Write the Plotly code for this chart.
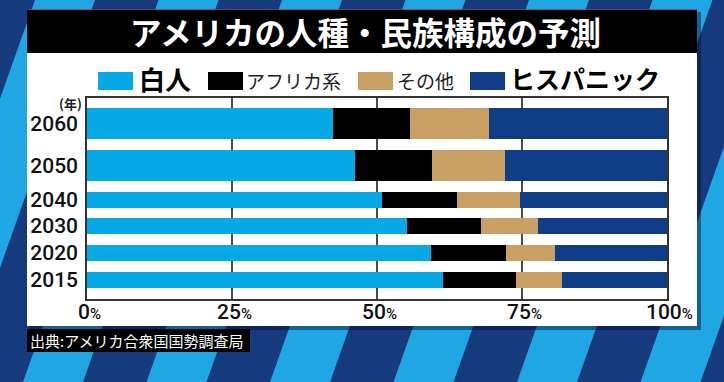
import plotly.graph_objects as go

# ---------------- data ----------------
years = ["2015", "2020", "2030", "2040", "2050", "2060"]
white = [61.4, 59.3, 55.2, 50.8, 46.2, 42.4]
african = [12.6, 12.9, 12.7, 13.0, 13.3, 13.3]
other = [7.9, 8.5, 9.9, 10.8, 12.6, 13.6]
hispanic = [18.1, 19.3, 22.2, 25.4, 27.9, 30.7]
series_names = ["白人", "アフリカ系", "その他", "ヒスパニック"]
tick_vals = [0, 25, 50, 75, 100]
tick_nums = ["0", "25", "50", "75", "100"]
title_text = "アメリカの人種・民族構成の予測"
source_text = "出典:アメリカ合衆国国勢調査局"
year_unit = "(年)"

# ---------------- layout / style ----------------
W, H = 724, 382
PL, PR, PT, PB = 87, 667, 98, 299
row_pos = [19, 46, 73, 99, 133.5, 175.5]      # row centres (px above plot bottom)
row_width = [16, 16, 16, 16, 31, 31]          # bar thickness (px)
colors = ["#07a8e6", "#000000", "#c9a064", "#0f3d86"]
JP = "Noto Sans CJK JP"
NUM = "Roboto, Liberation Sans, Arial, sans-serif"
NAVY_BG = "#163a7e"
LIGHT_BG = "#1fa6e3"
GRID = "#4a4a4a"


def fx(x):
    return (x - PL) / (PR - PL)


def fy(y):
    return (PB - y) / (PB - PT)


series_vals = [white, african, other, hispanic]

fig = go.Figure()
for name, vals, col in zip(series_names, series_vals, colors):
    fig.add_trace(go.Bar(
        x=vals, y=row_pos, width=row_width, orientation="h", name=name,
        marker=dict(color=col, line=dict(width=0)), showlegend=False,
        hovertemplate=name + ": %{x}%<extra></extra>",
    ))

shapes = []
# diagonal background stripes
for k in range(-2, 7):
    xb = 23 + 123.5 * k
    pts = [(xb, 382), (xb + 60, 382), (xb + 60 + 135.5, 0), (xb + 135.5, 0)]
    path = "M " + " L ".join(f"{fx(a):.5f},{fy(b):.5f}" for a, b in pts) + " Z"
    shapes.append(dict(type="path", path=path, xref="paper", yref="paper",
                       fillcolor=LIGHT_BG, line=dict(width=0), layer="below"))


def rect(x0, y0, x1, y1, color, layer="below"):
    return dict(type="rect", xref="paper", yref="paper",
                x0=fx(x0), x1=fx(x1), y0=fy(y1), y1=fy(y0),
                fillcolor=color, line=dict(width=0), layer=layer)


# panel shadow, panel, title bar, source box
shapes.append(rect(30, 12, 701, 330, "rgba(5,15,45,0.45)"))
shapes.append(rect(27, 9.5, 697, 326, "#ffffff"))
shapes.append(rect(27, 9.5, 697, 53, "#000000"))
shapes.append(rect(27, 329, 250, 352, "#000000"))

# legend swatches
sw_x = [(98, 133), (208, 243), (358, 393), (470, 505)]
for (a, b), col in zip(sw_x, colors):
    shapes.append(rect(a, 72, b, 90, col))

annotations = []


def ann(text, x, y, size, color="#000", xanchor="left", family=JP, weight="normal"):
    annotations.append(dict(text=text, x=fx(x), y=fy(y), xref="paper", yref="paper",
                            xanchor=xanchor, yanchor="middle", showarrow=False,
                            font=dict(family=family, size=size, color=color, weight=weight)))


ann(title_text, 365, 31, 31.5, "#ffffff", "center", weight="bold")
ann(series_names[0], 137, 78, 26, "#000", weight="bold")
ann(series_names[1], 244, 80, 19, "#222")
ann(series_names[2], 395, 80, 19, "#222")
ann(series_names[3], 508, 78, 25, "#000", weight="bold")
ann(source_text, 28, 340.5, 15, "#ffffff")
ann(year_unit, 70, 103, 13, "#222", "center", weight="bold")

# x-axis percentage labels, placed on the axis' own tick values
tick_text = [n + "<span style='font-size:15px'>%</span>" for n in tick_nums]
for v, t in zip(tick_vals, tick_text):
    annotations.append(dict(text=t, x=v, xref="x", y=fy(312), yref="paper",
                            xanchor="center", yanchor="middle", xshift=2,
                            showarrow=False,
                            font=dict(family=NUM, size=21, color="#111", weight=500)))

fig.update_layout(
    width=W, height=H,
    margin=dict(l=PL, r=W - PR, t=PT, b=H - PB, pad=0),
    paper_bgcolor=NAVY_BG, plot_bgcolor="rgba(0,0,0,0)",
    barmode="stack", bargap=0,
    shapes=shapes, annotations=annotations,
    xaxis=dict(range=[0, 100], tickvals=tick_vals, showticklabels=False,
               showgrid=True, gridcolor=GRID, gridwidth=1.5,
               showline=True, mirror=True, linecolor="#333", linewidth=1.5,
               zeroline=False, ticks="", fixedrange=True),
    yaxis=dict(range=[0, PB - PT], tickvals=row_pos, ticktext=years,
               showgrid=False, showline=True, mirror=True, linecolor="#333",
               linewidth=1.5, zeroline=False,
               ticks="outside", ticklen=3, tickcolor="rgba(0,0,0,0)",
               tickfont=dict(family=NUM, size=21, color="#111", weight=500),
               fixedrange=True),
    font=dict(family=JP),
)

fig.write_html("out.html", post_script="document.body.style.margin='0px';",
               config={"displayModeBar": False})
